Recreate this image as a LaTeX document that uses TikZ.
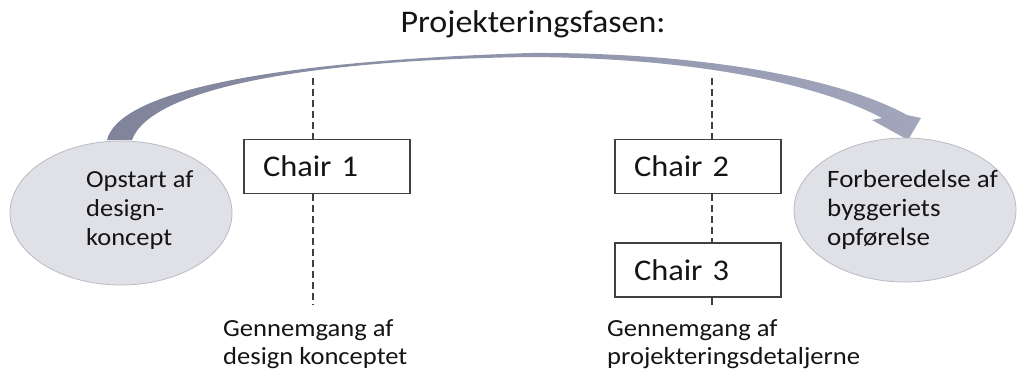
\documentclass[tikz,border=0pt]{standalone}
\usepackage{fontspec}
\setmainfont{Carlito}[FakeStretch=1.08]
\usetikzlibrary{shapes.geometric}
\definecolor{ellfill}{RGB}{224,225,231}
\definecolor{elldraw}{RGB}{185,186,196}
\definecolor{arrowdark}{RGB}{128,132,154}
\definecolor{arrowlight}{RGB}{162,166,188}
\definecolor{boxline}{RGB}{64,64,64}
\definecolor{txt}{RGB}{20,20,20}
\tikzset{
  phase/.style={ellipse, draw=elldraw, fill=ellfill, line width=0.8pt,
    minimum width=222pt, minimum height=144pt, inner sep=0pt},
  ellText/.style={anchor=north west, inner sep=0pt, align=left, text=txt,
    font=\fontsize{24.5}{29}\selectfont},
  chairbox/.style={draw=boxline, line width=1.5pt, fill=white,
    minimum width=166pt, minimum height=54pt, inner xsep=19pt, inner ysep=0pt,
    text width=128pt, align=left, text height=20pt, text depth=0pt,
    text=txt, font=\fontsize{30}{34}\selectfont},
  divider/.style={draw=boxline, line width=1.8pt, dash pattern=on 7pt off 4pt},
  noteText/.style={anchor=north west, inner sep=0pt, align=left, text=txt,
    font=\fontsize{24.6}{28.5}\selectfont},
}
\begin{document}
\begin{tikzpicture}[x=1pt,y=-1pt]
\useasboundingbox (0,0) rectangle (1017,373);
% title
\node[anchor=base, text=txt, font=\fontsize{31.5}{38}\selectfont] (title) at (533,32) {Projekteringsfasen:};
% curved arrow
\shade[left color=arrowdark, right color=arrowlight]
  (107,140) .. controls (118,95) and (250,62) .. (530,53)
  .. controls (700,52) and (840,78) .. (907,115)
  -- (921,118) -- (908,140) -- (872,120) -- (882,118)
  .. controls (820,85) and (700,58) .. (530,57)
  .. controls (300,60) and (150,90) .. (132,140) -- cycle;
% ellipses
\node[phase] (start) at (121,213) {};
\node[phase] (end) at (905,210) {};
\node[ellText] (starttxt) at (86,170) {Opstart af\\design-\\koncept};
\node[ellText, font=\fontsize{25}{29}\selectfont] (endtxt) at (827,170) {Forberedelse af\\byggeriets\\opførelse};
% chairs
\node[chairbox] (c1) at (327,166.5) {Chair 1};
\node[chairbox] (c2) at (698,166.5) {Chair 2};
\node[chairbox] (c3) at (698,270) {Chair 3};
% dividers
\coordinate (d1top) at (313,78);
\coordinate (d1bot) at (313,305);
\coordinate (d2top) at (712,78);
\coordinate (d2bot) at (712,305);
\draw[divider] (d1top) -- (d1top |- c1.north);
\draw[divider] (d1top |- c1.south) -- (d1bot);
\draw[divider] (d2top) -- (d2top |- c2.north);
\draw[divider] (d2top |- c2.south) -- (d2top |- c3.north);
\draw[divider] (d2top |- c3.south) -- (d2bot);
% notes
\node[noteText] (n1) at (223,319) {Gennemgang af\\design konceptet};
\node[noteText] (n2) at (607,319) {Gennemgang af\\projekteringsdetaljerne};
\end{tikzpicture}
\end{document}
